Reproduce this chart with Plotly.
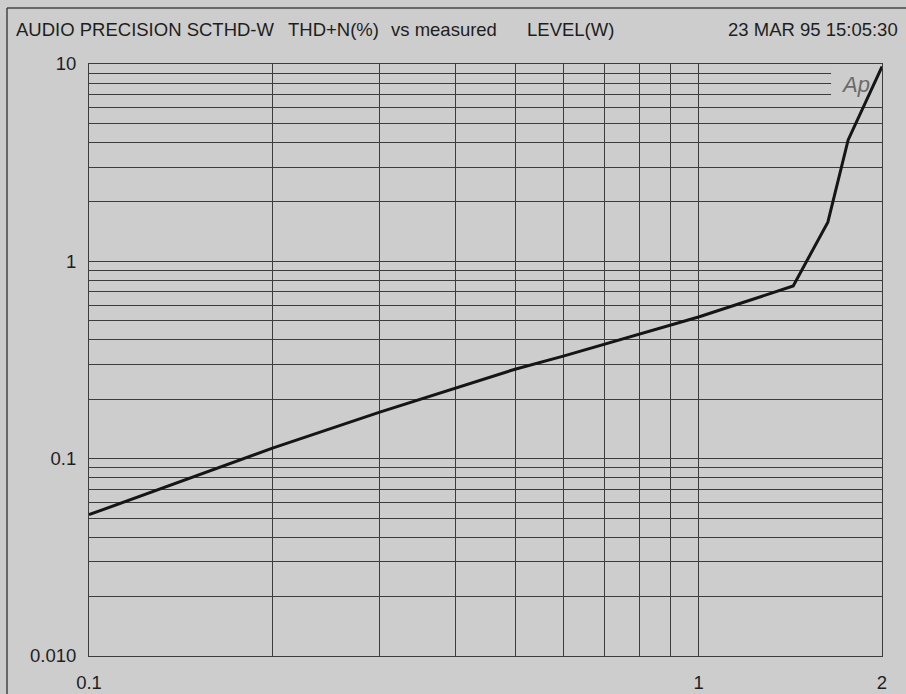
import numpy as np
import plotly.graph_objects as go

# Data
level_w = [0.1, 0.2, 0.3, 0.5, 0.6, 0.8, 1.0, 1.43, 1.63, 1.76, 2.0]
thd_pct = [0.052, 0.113, 0.172, 0.284, 0.331, 0.428, 0.522, 0.75, 1.58, 4.12, 9.7]

# Grid / tick definitions
y_grid = [m * 10.0 ** e for e in (-2, -1, 0) for m in range(1, 10)] + [10.0]
y_labels = {0.01: "0.010", 0.1: "0.1", 1.0: "1", 10.0: "10"}
x_grid = [round(0.1 * k, 1) for k in range(1, 11)] + [2.0]
x_labels = {0.1: "0.1", 1.0: "1", 2.0: "2"}

BG = "#cdcdcd"
INK = "#1e1e1e"
GRID = "#3c3c3c"
FONT = "Liberation Sans, Arial, sans-serif"

fig = go.Figure()
fig.add_trace(go.Scatter(
    x=level_w, y=thd_pct, mode="lines",
    line=dict(color="#151515", width=3),
    hoverinfo="x+y", showlegend=False,
))

def lbl(v, d):
    for k, t in d.items():
        if abs(v - k) < 1e-9:
            return t
    return ""

fig.update_xaxes(
    type="log", range=[-1, np.log10(2.0)],
    tickmode="array", tickvals=x_grid, ticktext=[lbl(v, x_labels) for v in x_grid],
    showgrid=True, gridcolor=GRID, gridwidth=1,
    showline=True, linecolor=GRID, linewidth=1, mirror=True,
    ticks="", ticklabelstandoff=10, automargin=False,
    tickfont=dict(family=FONT, size=18.5, color=INK),
    zeroline=False,
)
fig.update_yaxes(
    type="log", range=[-2, 1],
    tickmode="array", tickvals=y_grid, ticktext=[lbl(v, y_labels) for v in y_grid],
    showgrid=True, gridcolor=GRID, gridwidth=1.3,
    showline=True, linecolor=GRID, linewidth=1, mirror=True,
    ticks="", ticklabelstandoff=8, automargin=False,
    tickfont=dict(family=FONT, size=18.5, color=INK),
    zeroline=False,
)

shapes = [
    # patch hiding the 7/8/9 gridlines where the "Ap" logo sits
    dict(type="rect", xref="x", yref="y", x0=1.65, x1=2.0, y0=6.5, y1=9.8,
         fillcolor=BG, line=dict(width=0), layer="between"),
    # outer page frame
    dict(type="line", xref="paper", yref="paper", x0=-0.1034, x1=-0.1034, y0=-0.07, y1=1.0946,
         line=dict(color="#444", width=1.5)),
    dict(type="line", xref="paper", yref="paper", x0=-0.1034, x1=1.04, y0=1.0946, y1=1.0946,
         line=dict(color="#444", width=1.5)),
]
fig.update_layout(shapes=shapes)

title_parts = [
    ("AUDIO PRECISION SCTHD-W", 14, "left"),
    ("THD+N(%)", 286, "left"),
    ("vs measured", 389, "left"),
    ("LEVEL(W)", 525, "left"),
    ("23 MAR 95 15:05:30", 900, "right"),
]
L, R, T, B = 89, 24, 64, 38
W, H = 906, 694
pw = W - L - R
ph = H - T - B
annots = []
for text, px, anchor in title_parts:
    annots.append(dict(
        text=text, xref="paper", yref="paper",
        x=(px - L) / pw, y=(H - 30 - B) / ph,
        xanchor=anchor, yanchor="middle", showarrow=False,
        font=dict(family=FONT, size=18.5, color=INK),
    ))
annots.append(dict(
    text="<i>Ap</i>", xref="paper", yref="paper",
    x=(855 - L) / pw, y=(H - 84 - B) / ph,
    xanchor="center", yanchor="middle", showarrow=False,
    font=dict(family=FONT, size=22, color="#6a6a6a"),
))
fig.update_layout(annotations=annots)

fig.update_layout(
    width=W, height=H,
    margin=dict(l=L, r=R, t=T, b=B, autoexpand=False),
    paper_bgcolor=BG, plot_bgcolor=BG,
    showlegend=False,
)

fig.write_html(
    "out.html",
    config={"displayModeBar": False},
    post_script="document.body.style.margin='0';document.body.style.background='%s';" % BG,
)
